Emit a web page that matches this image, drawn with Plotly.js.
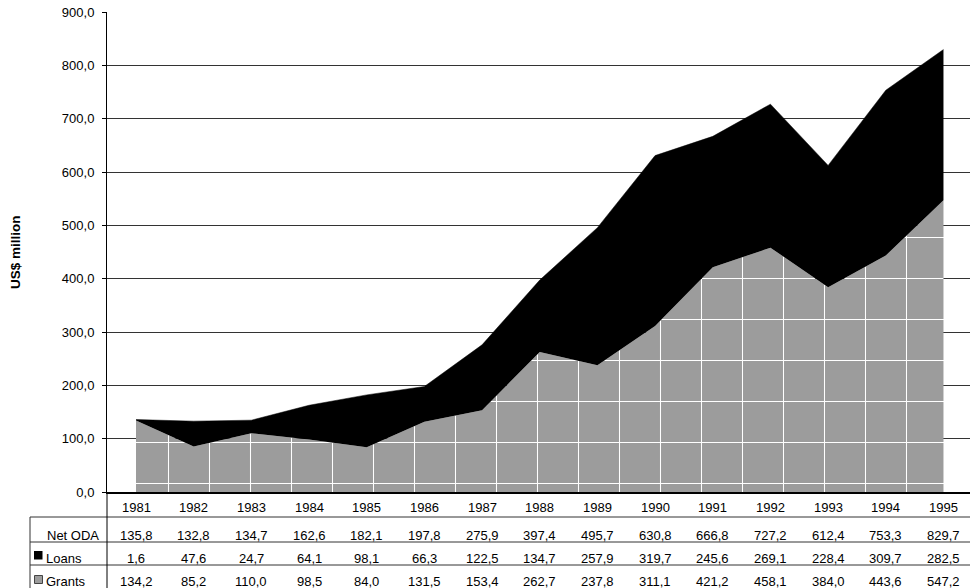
<!DOCTYPE html>
<html>
<head>
<meta charset="utf-8">
<script src="https://cdn.plot.ly/plotly-3.0.1.min.js"></script>
<style>html,body{margin:0;padding:0;background:#fff;}#chart{width:970px;height:588px;}</style>
</head>
<body>
<div id="chart"></div>
<script>
const years = ['1981','1982','1983','1984','1985','1986','1987','1988','1989','1990','1991','1992','1993','1994','1995'];
const netODA = [135.8,132.8,134.7,162.6,182.1,197.8,275.9,397.4,495.7,630.8,666.8,727.2,612.4,753.3,829.7];
const loans  = [1.6,47.6,24.7,64.1,98.1,66.3,122.5,134.7,257.9,319.7,245.6,269.1,228.4,309.7,282.5];
const grants = [134.2,85.2,110.0,98.5,84.0,131.5,153.4,262.7,237.8,311.1,421.2,458.1,384.0,443.6,547.2];
const rowLabels = ['Net ODA','Loans','Grants'];

const L = 107, T = 12, W = 863, H = 480, FULLH = 588;
const px = p => (p - L) / W;
const py = p => (T + H - p) / H;
const fmt = v => v.toFixed(1).replace('.', ',');
const FONT = 'Liberation Sans, Arial, sans-serif';
const FS = 13;

const traces = [
  {
    x: years, y: grants, name: 'Grants', type: 'scatter', mode: 'lines',
    stackgroup: 'one', line: {width: 0, color: '#9c9c9c'},
    fillcolor: '#9c9c9c',
    fillpattern: {shape: '+', size: 41, solidity: 0.05, fgcolor: '#ffffff', bgcolor: '#9c9c9c', fillmode: 'replace'},
    hoverinfo: 'skip'
  },
  {
    x: years, y: loans, name: 'Loans', type: 'scatter', mode: 'lines',
    stackgroup: 'one', line: {width: 0.5, color: '#000'},
    fillcolor: '#000', hoverinfo: 'skip'
  }
];

const annotations = [];
const rowsY = [535, 558, 581];
const rowsData = [netODA, loans, grants];
years.forEach((yr, i) => {
  annotations.push({x: i, xref: 'x', y: py(507), yref: 'paper', text: yr, showarrow: false,
    xanchor: 'center', yanchor: 'middle', font: {family: FONT, size: FS, color: '#000'}});
  rowsData.forEach((arr, r) => {
    annotations.push({x: i, xref: 'x', y: py(rowsY[r]), yref: 'paper', text: fmt(arr[i]), showarrow: false,
      xanchor: 'center', yanchor: 'middle', font: {family: FONT, size: FS, color: '#000'}});
  });
});
annotations.push({x: px(101), xref: 'paper', y: py(rowsY[0]), yref: 'paper', text: rowLabels[0], showarrow: false,
  xanchor: 'right', yanchor: 'middle', font: {family: FONT, size: FS, color: '#000'}});
annotations.push({x: px(44), xref: 'paper', y: py(rowsY[1]), yref: 'paper', text: rowLabels[1], showarrow: false,
  xanchor: 'left', yanchor: 'middle', font: {family: FONT, size: FS, color: '#000'}});
annotations.push({x: px(44), xref: 'paper', y: py(rowsY[2]), yref: 'paper', text: rowLabels[2], showarrow: false,
  xanchor: 'left', yanchor: 'middle', font: {family: FONT, size: FS, color: '#000'}});
annotations.push({x: px(15), xref: 'paper', y: py(252), yref: 'paper', text: '<b>US$ million</b>', showarrow: false,
  textangle: -90, xanchor: 'center', yanchor: 'middle', font: {family: FONT, size: 13.5, color: '#000'}});

const lineStyle = {color: '#333', width: 1};
const shapes = [
  {type: 'line', xref: 'paper', yref: 'paper', x0: px(30), x1: px(972), y0: py(517), y1: py(517), line: lineStyle},
  {type: 'line', xref: 'paper', yref: 'paper', x0: px(30), x1: px(972), y0: py(542), y1: py(542), line: lineStyle},
  {type: 'line', xref: 'paper', yref: 'paper', x0: px(30), x1: px(972), y0: py(565), y1: py(565), line: lineStyle},
  {type: 'line', xref: 'paper', yref: 'paper', x0: px(30), x1: px(30), y0: py(517), y1: py(FULLH + 2), line: lineStyle},
  {type: 'line', xref: 'paper', yref: 'paper', x0: 0, x1: 0, y0: 0, y1: py(FULLH + 2), line: {color: '#000', width: 1}},
  {type: 'rect', xref: 'paper', yref: 'paper', x0: px(34), x1: px(42.5), y0: py(551), y1: py(559.5), fillcolor: '#000', line: {width: 0}},
  {type: 'rect', xref: 'paper', yref: 'paper', x0: px(34.5), x1: px(42.5), y0: py(575.5), y1: py(583.5), fillcolor: '#9c9c9c', line: {color: '#444', width: 1}}
];

const layout = {
  width: 970, height: 588,
  margin: {l: L, r: 970 - L - W, t: T, b: FULLH - T - H, pad: 0},
  paper_bgcolor: '#fff', plot_bgcolor: '#fff',
  showlegend: false,
  xaxis: {type: 'category', range: [-0.503, 14.46], showgrid: false, showticklabels: false, ticks: '',
    showline: true, linecolor: '#000', linewidth: 2, zeroline: false, fixedrange: true},
  yaxis: {range: [0, 900], dtick: 100, tickformat: '.1f', showgrid: true, gridcolor: '#333', gridwidth: 1,
    showline: true, linecolor: '#000', linewidth: 1, ticks: 'outside', ticklen: 4, tickcolor: '#000',
    ticklabelstandoff: 5,
    zeroline: false, tickfont: {family: FONT, size: FS, color: '#000'}, automargin: false, fixedrange: true},
  separators: ',.',
  annotations: annotations,
  shapes: shapes,
  font: {family: FONT}
};

Plotly.newPlot('chart', traces, layout, {displayModeBar: false, staticPlot: true});
</script>
</body>
</html>
